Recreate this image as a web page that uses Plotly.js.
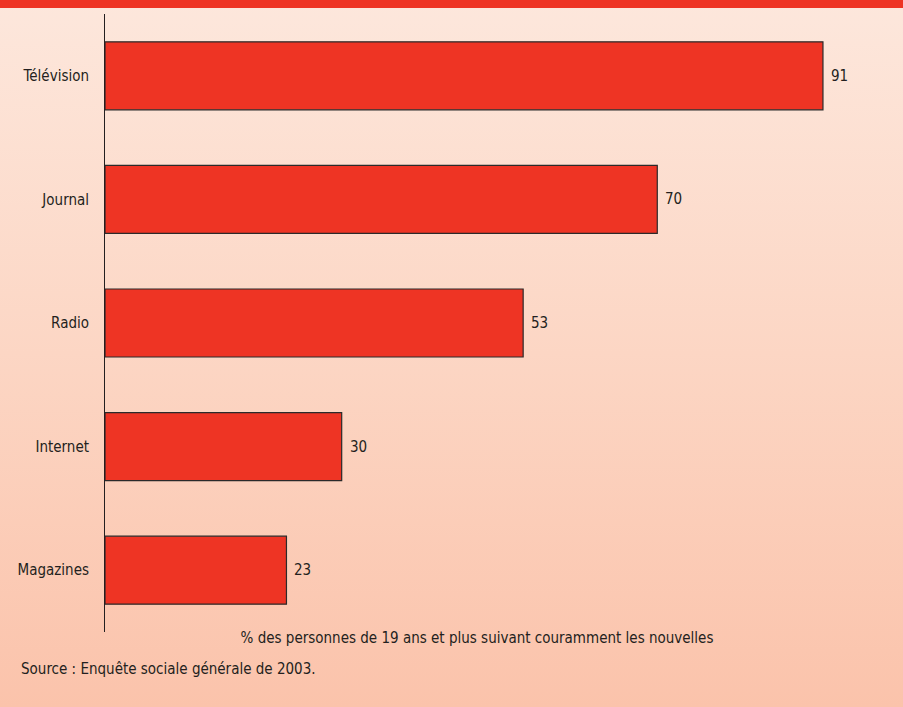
<!DOCTYPE html>
<html><head><meta charset="utf-8">
<script src="https://cdn.plot.ly/plotly-3.0.1.min.js"></script>
<style>
html,body{margin:0;padding:0;}
body{width:903px;height:707px;background:linear-gradient(to bottom,#FDE7DC 0%,#FCD6C4 50%,#FBC3AB 100%);position:relative;overflow:hidden;}
#band{position:absolute;left:0;top:0;width:903px;height:8px;background:#EE3424;}
#chart{position:absolute;left:0;top:0;width:903px;height:707px;}
</style></head>
<body><div id="band"></div><div id="chart"></div>
<script>
var categories = ["Télévision","Journal","Radio","Internet","Magazines"];
var values = [91,70,53,30,23];
var axisTitle = "% des personnes de 19 ans et plus suivant couramment les nouvelles";
var sourceText = "Source : Enquête sociale générale de 2003.";
var FONT = "'Liberation Sans Narrow','DejaVu Sans Condensed','Roboto Condensed',sans-serif";
var trace = {
  type:'bar', orientation:'h', y:categories, x:values,
  marker:{color:'#EE3424',line:{color:'#2a2a2a',width:1.2}},
  hoverinfo:'none'
};
var labelAnns = values.map(function(v,i){
  return {x:v,y:categories[i],xref:'x',yref:'y',text:String(v),showarrow:false,
    xanchor:'left',xshift:6,yanchor:'middle',font:{family:FONT,size:15,color:'#231F20'}};
});
var layout = {
  width:903,height:707,
  margin:{l:105,r:54,t:14,b:75},
  paper_bgcolor:'rgba(0,0,0,0)', plot_bgcolor:'rgba(0,0,0,0)',
  bargap:0.45, showlegend:false,
  font:{family:FONT,size:15,color:'#231F20'},
  xaxis:{range:[0,94.3],showgrid:false,zeroline:false,showline:false,showticklabels:false,ticks:'',
    title:{text:axisTitle,standoff:0,font:{family:FONT,size:15,color:'#231F20'}}},
  yaxis:{autorange:'reversed',showgrid:false,zeroline:false,showline:true,linecolor:'#231F20',linewidth:1,
    ticks:'',ticklabelstandoff:12,tickfont:{family:FONT,size:15,color:'#231F20'}},
  annotations:labelAnns.concat([{text:sourceText,xref:'paper',yref:'paper',x:-0.1156,xanchor:'left',y:0,yshift:-26,yanchor:'top',
    showarrow:false,font:{family:FONT,size:15,color:'#231F20'}}])
};
Plotly.newPlot('chart',[trace],layout,{staticPlot:true});
</script></body></html>
